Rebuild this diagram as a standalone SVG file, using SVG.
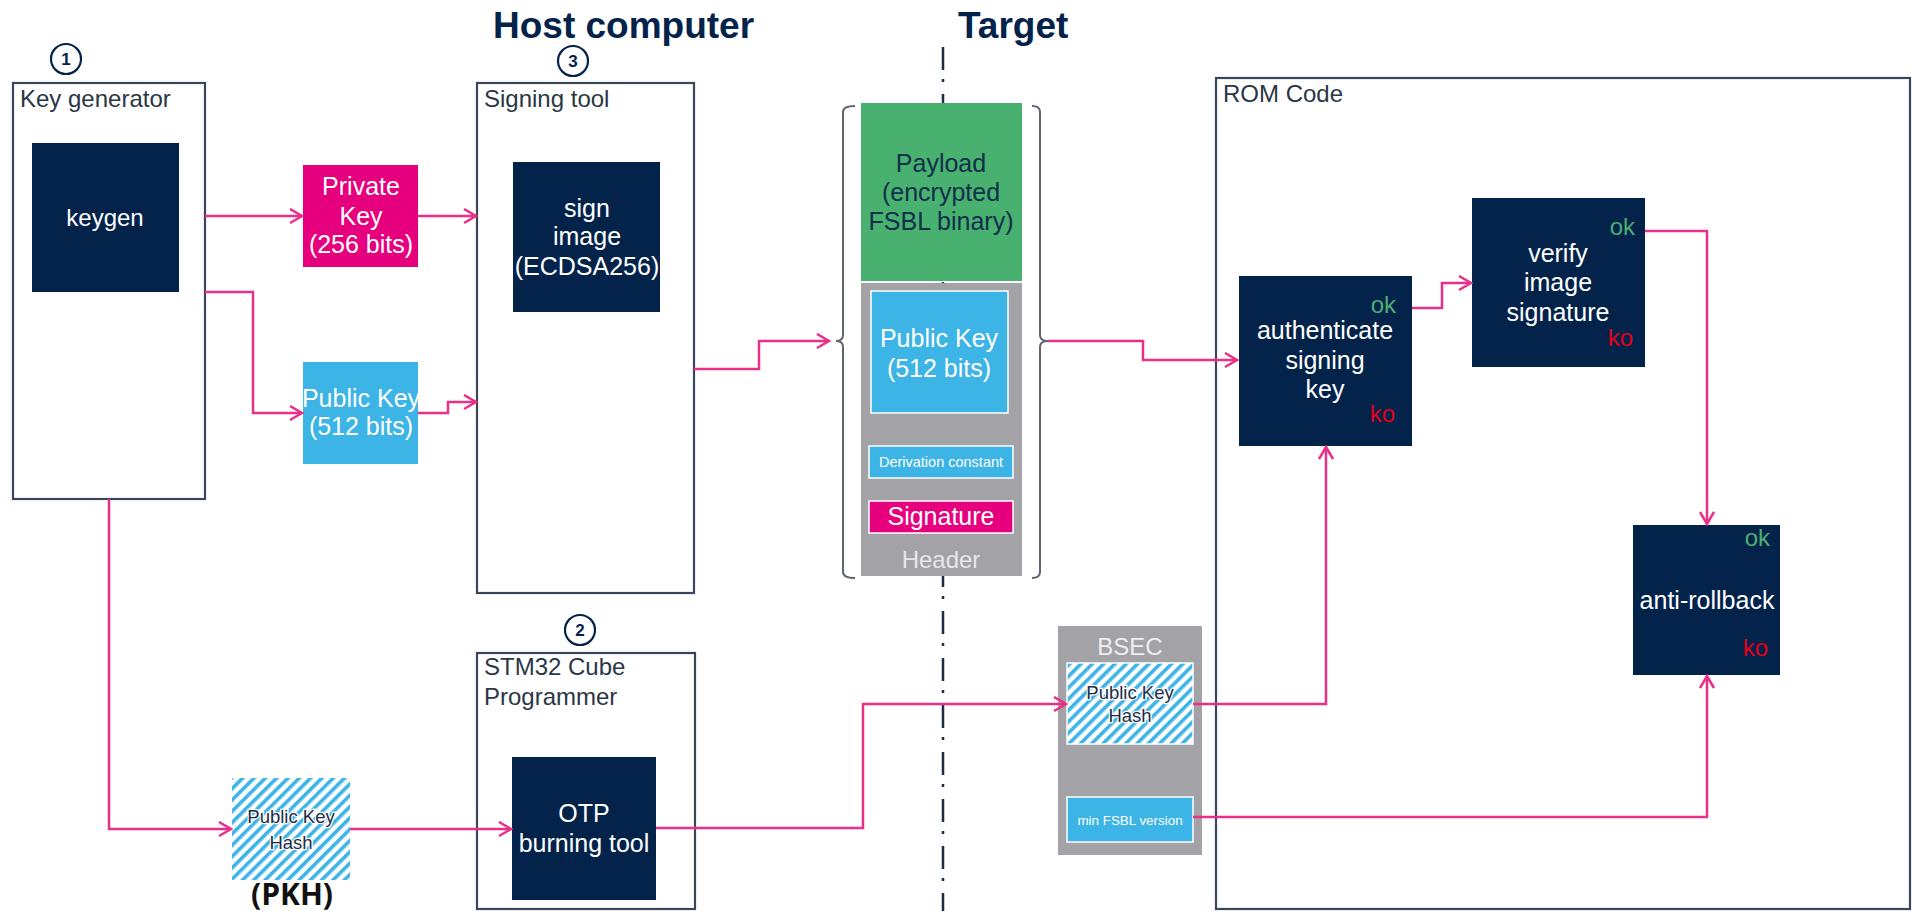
<svg xmlns="http://www.w3.org/2000/svg" width="1912" height="911" viewBox="0 0 1912 911">
<style>
text{font-family:"Liberation Sans",Arial,sans-serif;}
.frame{fill:#fff;stroke:#3a4759;stroke-width:2.2;}
.navy{fill:#03234B;}
.lbl{font-size:24px;fill:#2b3646;}
.wt{font-size:25px;fill:#fff;text-anchor:middle;}
.title{font-size:37px;font-weight:bold;fill:#03234B;}
.num circle{fill:#fff;stroke:#03234B;stroke-width:2.2;}
.num text{font-size:17px;font-weight:bold;fill:#03234B;text-anchor:middle;}
.ok{font-size:24px;fill:#4CAF72;text-anchor:end;}
.ko{font-size:24px;fill:#E4001B;text-anchor:end;}
.conn path{fill:none;stroke:#E8308A;stroke-width:2.5;marker-end:url(#arr);}
.brk{fill:none;stroke:#5f6673;stroke-width:2;}
.hashtxt{font-size:18.5px;fill:#1d2c44;text-anchor:middle;stroke:#fff;stroke-width:2.5;paint-order:stroke;}
</style>
<defs>
<marker id="arr" markerUnits="userSpaceOnUse" markerWidth="16" markerHeight="18" refX="13" refY="8" orient="auto">
<path d="M1,1 L13,8 L1,15" fill="none" stroke="#E8308A" stroke-width="2.5"/>
</marker>
<pattern id="hatch" patternUnits="userSpaceOnUse" width="8" height="8" patternTransform="rotate(45)">
<rect width="8" height="8" fill="#fff"/>
<rect width="3.6" height="8" fill="#3CB4E6"/>
</pattern>
</defs>
<rect width="1912" height="911" fill="#fff"/>

<!-- divider -->
<line x1="943" y1="47" x2="943" y2="911" stroke="#1e2d44" stroke-width="2.5" stroke-dasharray="23 9 3 12"/>

<!-- titles -->
<text class="title" x="493" y="38">Host computer</text>
<text class="title" x="958" y="38">Target</text>

<!-- step numbers -->
<g class="num" id="n1"><circle cx="66" cy="59" r="15"/><text x="66" y="65">1</text></g>
<g class="num" id="n3"><circle cx="573" cy="61" r="15"/><text x="573" y="67">3</text></g>
<g class="num" id="n2"><circle cx="580" cy="630" r="15"/><text x="580" y="636">2</text></g>
<g class="num" id="n4"><circle cx="1479" cy="411" r="15"/><text x="1479" y="417">4</text></g>

<!-- Key generator -->
<g id="keygenerator">
<rect class="frame" x="13" y="83" width="192" height="416"/>
<text class="lbl" x="20" y="107">Key generator</text>
</g>
<g id="keygen">
<rect class="navy" x="32" y="143" width="147" height="149"/>
<text class="wt" x="105" y="226" style="font-size:24px">keygen</text>
</g>
<g id="privatekey">
<rect x="303" y="165" width="115" height="102" fill="#E6007E"/>
<text class="wt" x="361" y="195">Private</text>
<text class="wt" x="361" y="225">Key</text>
<text class="wt" x="361" y="253">(256 bits)</text>
</g>
<g id="publickey">
<rect x="303" y="362" width="115" height="102" fill="#3CB4E6"/>
<text class="wt" x="361" y="407">Public Key</text>
<text class="wt" x="361" y="435">(512 bits)</text>
</g>
<g id="pkh">
<rect x="232" y="778" width="118" height="102" fill="url(#hatch)"/>
<text class="hashtxt" x="291" y="823">Public Key</text>
<text class="hashtxt" x="291" y="849">Hash</text>
<text x="292" y="905" style="font-size:30px;font-weight:bold;fill:#111;text-anchor:middle;font-family:'Open Sans','Liberation Sans',sans-serif">(PKH)</text>
</g>

<!-- Signing tool -->
<g id="signingtool">
<rect class="frame" x="477" y="83" width="217" height="510"/>
<text class="lbl" x="484" y="107">Signing tool</text>
</g>
<g id="signimage">
<rect class="navy" x="513" y="162" width="147" height="150"/>
<text class="wt" x="587" y="217">sign</text>
<text class="wt" x="587" y="245">image</text>
<text class="wt" x="587" y="275">(ECDSA256)</text>
</g>

<!-- STM32 Cube Programmer -->
<g id="stm32">
<rect class="frame" x="477" y="653" width="218" height="256"/>
<text class="lbl" x="484" y="675">STM32 Cube</text>
<text class="lbl" x="484" y="705">Programmer</text>
</g>
<g id="otp">
<rect class="navy" x="512" y="757" width="144" height="143"/>
<text class="wt" x="584" y="822">OTP</text>
<text class="wt" x="584" y="852">burning tool</text>
</g>

<!-- Image (target) -->
<g id="image">
<path class="brk" d="M855,106 Q843,106 843,112 L843,335 Q843,341 836,341 Q843,341 843,347 L843,572 Q843,578 855,578"/>
<path class="brk" d="M1032,106 Q1040,106 1040,112 L1040,335 Q1040,341 1048,341 Q1040,341 1040,347 L1040,572 Q1040,578 1032,578"/>
<rect x="861" y="103" width="161" height="178" fill="#49B170"/>
<text x="941" y="172" style="font-size:25px;fill:#0f2f4a;text-anchor:middle">Payload</text>
<text x="941" y="201" style="font-size:25px;fill:#0f2f4a;text-anchor:middle">(encrypted</text>
<text x="941" y="230" style="font-size:25px;fill:#0f2f4a;text-anchor:middle">FSBL binary)</text>
<rect x="861" y="283" width="161" height="293" fill="#A2A2A7"/>
<rect x="871" y="291" width="137" height="122" fill="#3CB4E6" stroke="#fff" stroke-width="1.5"/>
<text class="wt" x="939" y="347">Public Key</text>
<text class="wt" x="939" y="377">(512 bits)</text>
<rect x="869" y="446" width="144" height="32" fill="#3CB4E6" stroke="#fff" stroke-width="1.5"/>
<text x="941" y="467" style="font-size:14.5px;fill:#fff;text-anchor:middle">Derivation constant</text>
<rect x="869" y="501" width="144" height="32" fill="#E6007E" stroke="#fff" stroke-width="1.5"/>
<text class="wt" x="941" y="525">Signature</text>
<text x="941" y="568" style="font-size:24px;fill:#e6e6e8;text-anchor:middle">Header</text>
</g>

<!-- BSEC -->
<g id="bsec">
<rect x="1058" y="626" width="144" height="229" fill="#A2A2A7"/>
<text x="1130" y="655" style="font-size:24px;fill:#eeeeee;text-anchor:middle">BSEC</text>
<rect x="1067" y="663" width="126" height="81" fill="url(#hatch)" stroke="#fff" stroke-width="1.5"/>
<text class="hashtxt" x="1130" y="699">Public Key</text>
<text class="hashtxt" x="1130" y="722">Hash</text>
<rect x="1067" y="797" width="126" height="45" fill="#3CB4E6" stroke="#fff" stroke-width="1.5"/>
<text x="1130" y="825" style="font-size:13.4px;fill:#fff;text-anchor:middle">min FSBL version</text>
</g>

<!-- ROM Code -->
<g id="romcode">
<rect class="frame" x="1216" y="78" width="694" height="831"/>
<text class="lbl" x="1223" y="102">ROM Code</text>
</g>
<g id="authenticate">
<rect class="navy" x="1239" y="276" width="173" height="170"/>
<text class="ok" x="1396" y="313">ok</text>
<text class="wt" x="1325" y="339">authenticate</text>
<text class="wt" x="1325" y="369">signing</text>
<text class="wt" x="1325" y="398">key</text>
<text class="ko" x="1395" y="422">ko</text>
</g>
<g id="verify">
<rect class="navy" x="1472" y="198" width="173" height="169"/>
<text class="ok" x="1635" y="235">ok</text>
<text class="wt" x="1558" y="262">verify</text>
<text class="wt" x="1558" y="291">image</text>
<text class="wt" x="1558" y="321">signature</text>
<text class="ko" x="1633" y="346">ko</text>
</g>
<g id="antirollback">
<rect class="navy" x="1633" y="525" width="147" height="150"/>
<text class="ok" x="1770" y="546">ok</text>
<text class="wt" x="1707" y="609">anti-rollback</text>
<text class="ko" x="1768" y="656">ko</text>
</g>

<!-- connectors -->
<g class="conn" id="connectors">
<path d="M205,216 H302"/>
<path d="M418,216 H476"/>
<path d="M205,292 H253 V413 H302"/>
<path d="M418,413 H448 V402 H476"/>
<path d="M109,499 V829 H231"/>
<path d="M350,829 H511"/>
<path d="M694,369 H759 V341 H829"/>
<path d="M1048,341 H1143 V360 H1237"/>
<path d="M656,828 H863 V704 H1066"/>
<path d="M1193,704 H1326 V447"/>
<path d="M1193,817 H1707 V676"/>
<path d="M1412,308 H1442 V283 H1471"/>
<path d="M1645,231 H1707 V524"/>
</g>
</svg>
